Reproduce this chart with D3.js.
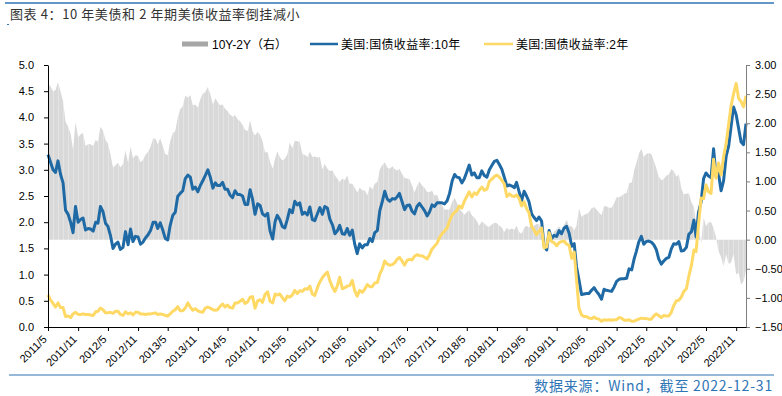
<!DOCTYPE html>
<html><head><meta charset="utf-8">
<script src="https://cdn.jsdelivr.net/npm/d3@7"></script>
<style>
body{margin:0;background:#fff}
svg{display:block}
text{font-family:"Liberation Sans",Arial,"Noto Sans CJK SC",sans-serif}
</style>
</head><body>
<svg id="c" width="782" height="396"></svg>
<script>
// ---- data (values on the 1st and 16th of each month, 2011/5 – 2022/12, plus 2022-12-31) ----
const seriesNames = ["10Y-2Y（右）", "美国:国债收益率:10年", "美国:国债收益率:2年"];

const tenYear = [
  /*2011*/ 3.29,3.15, 3.00,2.95, 3.17,2.92, 2.75,2.23, 2.15,2.00, 1.80,2.30, 2.00,2.05, 2.08,1.85,
  /*2012*/ 1.88,1.87, 1.83,2.00, 1.98,2.30, 2.20,1.98, 1.92,1.75, 1.50,1.58, 1.62,1.48, 1.52,1.82, 1.57,1.87, 1.63,1.73, 1.72,1.58, 1.62,1.70,
  /*2013*/ 1.76,1.84, 2.00,2.00, 1.88,1.99, 1.85,1.69, 1.66,1.94, 2.13,2.19, 2.49,2.55, 2.60,2.83, 2.90,2.86, 2.63,2.67, 2.58,2.70, 2.79,2.89,
  /*2014*/ 3.00,2.86, 2.65,2.75, 2.70,2.70, 2.76,2.63, 2.63,2.52, 2.47,2.60, 2.53,2.53, 2.50,2.34, 2.34,2.62, 2.44,2.15, 2.35,2.32, 2.16,2.12,
  /*2015*/ 2.17,1.83, 1.68,2.02, 2.13,2.05, 1.92,1.89, 2.05,2.24, 2.18,2.40, 2.33,2.37, 2.15,2.19, 2.14,2.29, 2.05,2.03, 2.16,2.28, 2.15,2.30,
  /*2016*/ 2.27,2.06, 1.95,1.78, 1.83,1.94, 1.78,1.77, 1.88,1.75, 1.85,1.58, 1.40,1.59, 1.51,1.57, 1.57,1.69, 1.63,1.80, 1.84,2.22, 2.39,2.59,
  /*2017*/ 2.44,2.40, 2.45,2.44, 2.48,2.55, 2.39,2.24, 2.32,2.33, 2.21,2.16, 2.30,2.36, 2.29,2.22, 2.12,2.20, 2.33,2.30, 2.37,2.37, 2.37,2.35,
  /*2018*/ 2.41,2.55, 2.79,2.91, 2.86,2.85, 2.75,2.83, 2.96,3.09, 2.90,2.94, 2.85,2.85, 2.98,2.89, 2.86,3.00, 3.08,3.16, 3.18,3.10, 3.01,2.86,
  /*2019*/ 2.69,2.71, 2.69,2.66, 2.76,2.59, 2.41,2.59, 2.50,2.39, 2.16,2.09, 2.03,2.10, 2.02,1.55, 1.47,1.84, 1.68,1.75, 1.73,1.84, 1.78,1.89,
  /*2020*/ 1.92,1.79, 1.54,1.59, 1.15,0.90, 0.62,0.63, 0.64,0.64, 0.70,0.75, 0.68,0.62, 0.53,0.72, 0.70,0.69, 0.68,0.76, 0.87,0.91, 0.92,0.92,
  /*2021*/ 0.93,1.11, 1.09,1.30, 1.44,1.62, 1.73,1.58, 1.63,1.64, 1.62,1.57, 1.48,1.30, 1.20,1.26, 1.31,1.33, 1.49,1.59, 1.58,1.63, 1.45,1.46,
  /*2022*/ 1.52,1.77, 1.82,2.04, 1.72,2.19, 2.39,2.83, 2.94,2.88, 2.85,3.40, 2.88,2.93, 2.60,2.79, 3.26,3.45, 3.83,4.20, 4.05,3.79, 3.53,3.48,
  /*12-31*/ 3.88
];

const twoYear = [
  /*2011*/ 0.61,0.52, 0.45,0.38, 0.46,0.37, 0.37,0.20, 0.21,0.18, 0.25,0.28, 0.24,0.24, 0.25,0.24,
  /*2012*/ 0.24,0.23, 0.22,0.29, 0.30,0.36, 0.33,0.27, 0.27,0.28, 0.26,0.30, 0.30,0.24, 0.22,0.29, 0.25,0.27, 0.23,0.28, 0.28,0.25, 0.25,0.24,
  /*2013*/ 0.25,0.25, 0.26,0.27, 0.24,0.25, 0.24,0.22, 0.21,0.25, 0.30,0.33, 0.39,0.31, 0.31,0.36, 0.46,0.38, 0.32,0.35, 0.31,0.29, 0.28,0.36,
  /*2014*/ 0.38,0.36, 0.33,0.32, 0.33,0.39, 0.44,0.38, 0.42,0.37, 0.36,0.46, 0.46,0.49, 0.53,0.45, 0.48,0.57, 0.58,0.36, 0.50,0.52, 0.47,0.62,
  /*2015*/ 0.67,0.49, 0.46,0.63, 0.61,0.63, 0.56,0.50, 0.59,0.57, 0.61,0.70, 0.64,0.69, 0.68,0.73, 0.72,0.78, 0.63,0.60, 0.75,0.86, 0.94,1.00,
  /*2016*/ 1.05,0.88, 0.76,0.68, 0.78,0.95, 0.73,0.75, 0.78,0.79, 0.89,0.69, 0.59,0.70, 0.66,0.72, 0.81,0.77, 0.77,0.84, 0.85,1.01, 1.11,1.26,
  /*2017*/ 1.20,1.18, 1.19,1.23, 1.29,1.33, 1.26,1.18, 1.27,1.29, 1.28,1.35, 1.38,1.36, 1.36,1.33, 1.30,1.38, 1.49,1.54, 1.60,1.71, 1.78,1.83,
  /*2018*/ 1.89,2.03, 2.14,2.19, 2.22,2.31, 2.27,2.40, 2.49,2.58, 2.48,2.56, 2.53,2.61, 2.67,2.61, 2.63,2.78, 2.82,2.87, 2.90,2.86, 2.80,2.73,
  /*2019*/ 2.49,2.54, 2.50,2.49, 2.52,2.46, 2.31,2.39, 2.26,2.18, 1.92,1.85, 1.76,1.83, 1.89,1.51, 1.53,1.80, 1.63,1.61, 1.55,1.61, 1.63,1.64,
  /*2020*/ 1.58,1.56, 1.31,1.43, 0.91,0.36, 0.23,0.20, 0.20,0.17, 0.16,0.19, 0.16,0.15, 0.11,0.14, 0.13,0.14, 0.13,0.14, 0.14,0.18, 0.17,0.13,
  /*2021*/ 0.13,0.14, 0.11,0.11, 0.13,0.15, 0.17,0.16, 0.16,0.15, 0.15,0.21, 0.25,0.22, 0.18,0.22, 0.21,0.21, 0.28,0.41, 0.50,0.51, 0.57,0.68,
  /*2022*/ 0.73,0.97, 1.18,1.47, 1.44,1.95, 2.46,2.45, 2.71,2.58, 2.55,3.20, 2.84,3.13, 2.90,3.25, 3.51,3.87, 4.22,4.45, 4.65,4.36, 4.30,4.20,
  /*12-31*/ 4.41
];

const xTickLabels = ["2011/5","2011/11","2012/5","2012/11","2013/5","2013/11","2014/5","2014/11",
  "2015/5","2015/11","2016/5","2016/11","2017/5","2017/11","2018/5","2018/11","2019/5","2019/11",
  "2020/5","2020/11","2021/5","2021/11","2022/5","2022/11"];
const leftTicks = [0,0.5,1,1.5,2,2.5,3,3.5,4,4.5,5];
const rightTicks = [-1.5,-1,-0.5,0,0.5,1,1.5,2,2.5,3];

// ---- build dates (1st and 16th of each month) ----
const dates = [];
for (let y = 2011; y <= 2022; y++) {
  for (let m = (y === 2011 ? 4 : 0); m < 12; m++) {
    dates.push(new Date(y, m, 1));
    dates.push(new Date(y, m, 16));
  }
}
dates.push(new Date(2022, 11, 31));
const rows = dates.map((d, i) => ({date: d, ten: tenYear[i], two: twoYear[i], spread: tenYear[i] - twoYear[i]}));

// ---- layout ----
const L = 48, R = 746, T = 65, B = 327;
const svg = d3.select("#c");
const x = d3.scaleTime().domain([new Date(2011,4,1), new Date(2022,11,31)]).range([L, R]);
const yL = d3.scaleLinear().domain([0, 5]).range([B, T]);
const yR = d3.scaleLinear().domain([-1.5, 3]).range([B, T]);

const blue = "#1f6aa5", yellow = "#ffd966", gray = "#d9d9d9", frame = "#2e75b6";

// striped fill to mimic the dense daily bars
const defs = svg.append("defs");
const pat = defs.append("pattern").attr("id","stripes").attr("patternUnits","userSpaceOnUse")
  .attr("width",5).attr("height",10);
pat.append("rect").attr("width",5).attr("height",10).attr("fill",gray);
pat.append("rect").attr("x",3).attr("width",1).attr("height",10).attr("fill","#e4e4e4");

// header / footer
svg.append("line").attr("x1",5).attr("x2",774).attr("y1",3).attr("y2",3).attr("stroke",frame).attr("stroke-width",1.5);
svg.append("line").attr("x1",7).attr("x2",9).attr("y1",24.5).attr("y2",24.5).attr("stroke",frame).attr("stroke-width",1);
svg.append("text").attr("x",10).attr("y",19).attr("font-size",13).attr("fill","#333")
  .attr("letter-spacing",0.6)
  .style("font-family",'"Noto Sans CJK SC",sans-serif')
  .text("图表 4：10 年美债和 2 年期美债收益率倒挂减小");
svg.append("line").attr("x1",9).attr("x2",774).attr("y1",375).attr("y2",375).attr("stroke",frame).attr("stroke-width",1.2);
svg.append("text").attr("x",773).attr("y",391).attr("font-size",14).attr("fill",frame)
  .attr("letter-spacing",0.8)
  .attr("text-anchor","end").style("font-family",'"Noto Sans CJK SC",sans-serif')
  .text("数据来源：Wind，截至 2022-12-31");

// legend
const lg = svg.append("g").attr("font-size",12).attr("fill","#000");
lg.append("rect").attr("x",182).attr("y",41.5).attr("width",26).attr("height",5).attr("fill","#a6a6a6");
lg.append("text").attr("x",212).attr("y",48.5).text(seriesNames[0]);
lg.append("line").attr("x1",310).attr("x2",338).attr("y1",44).attr("y2",44).attr("stroke",blue).attr("stroke-width",2.5);
lg.append("text").attr("x",341).attr("y",48.5).attr("letter-spacing",0.3).text(seriesNames[1]);
lg.append("line").attr("x1",484).attr("x2",513).attr("y1",44).attr("y2",44).attr("stroke",yellow).attr("stroke-width",2.5);
lg.append("text").attr("x",516).attr("y",48.5).attr("letter-spacing",0.3).text(seriesNames[2]);

// spread area (right axis)
svg.append("path").datum(rows)
  .attr("d", d3.area().x(d => x(d.date)).y0(yR(0)).y1(d => yR(d.spread)))
  .attr("fill", "url(#stripes)");

// lines (left axis)
svg.append("path").datum(rows)
  .attr("d", d3.line().x(d => x(d.date)).y(d => yL(d.ten)))
  .attr("fill","none").attr("stroke",blue).attr("stroke-width",3).attr("stroke-linejoin","round");
svg.append("path").datum(rows)
  .attr("d", d3.line().x(d => x(d.date)).y(d => yL(d.two)))
  .attr("fill","none").attr("stroke",yellow).attr("stroke-width",3).attr("stroke-linejoin","round");

// axes
const gl = svg.append("g").attr("transform",`translate(${L},0)`)
  .call(d3.axisLeft(yL).tickValues(leftTicks).tickFormat(d3.format(".1f")).tickSize(4).tickSizeOuter(0).tickPadding(10));
gl.selectAll("path,line").attr("stroke","#000");
gl.selectAll("text").attr("font-size",11).attr("fill","#000").style("font-family",'"Liberation Sans",Arial,sans-serif');

const gr = svg.append("g").attr("transform",`translate(${R},0)`)
  .call(d3.axisRight(yR).tickValues(rightTicks).tickFormat(d3.format(".2f")).tickSize(4).tickSizeOuter(0).tickPadding(5));
gr.selectAll("path,line").attr("stroke","#7f7f7f");
gr.selectAll("text").attr("font-size",11).attr("fill","#000").style("font-family",'"Liberation Sans",Arial,sans-serif');

const tickDates = xTickLabels.map(s => { const [yy, mm] = s.split("/").map(Number); return new Date(yy, mm - 1, 1); });
const gb = svg.append("g").attr("transform",`translate(0,${B})`)
  .call(d3.axisBottom(x).tickValues(tickDates).tickSize(4).tickSizeOuter(0).tickFormat((d,i) => xTickLabels[i]));
gb.selectAll("path,line").attr("stroke","#000");
gb.selectAll("text").attr("font-size",11).attr("fill","#000")
  .style("font-family",'"Liberation Sans",Arial,sans-serif')
  .attr("x",0).attr("y",0).attr("dy",0)
  .attr("transform","translate(-1,13) rotate(-45)")
  .style("text-anchor","end");
</script>
</body></html>
